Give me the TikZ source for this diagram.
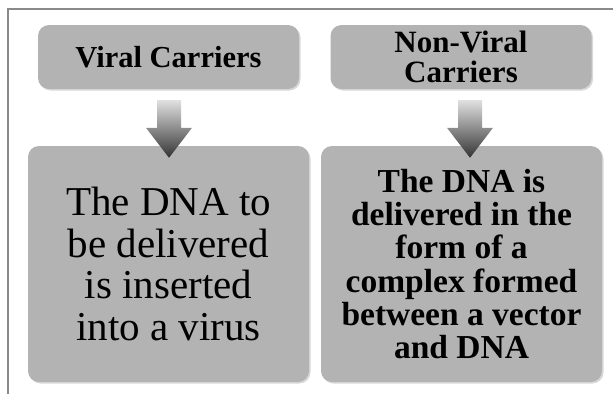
\documentclass[tikz,border=0pt]{standalone}
\usepackage{fontspec}
\setmainfont{Liberation Serif}
\usetikzlibrary{calc,shadows}
\definecolor{boxgray}{HTML}{B3B3B3}
\definecolor{framegray}{HTML}{8A8A8A}
\tikzset{
  box/.style={fill=boxgray, draw=none, rounded corners=11pt, align=center, inner sep=0pt,
    drop shadow={shadow xshift=1.5pt, shadow yshift=-1.5pt, fill=black!25, opacity=0.6}},
  bigarrow/.style={top color=black!12, bottom color=black!80, draw=none}
}
\begin{document}
\begin{tikzpicture}[x=1pt,y=-1pt]
\useasboundingbox (0,0) rectangle (613,394);
\fill[white] (0,0) rectangle (613,394);
\draw[framegray, line width=1.5pt] (8,394) -- (8,9) -- (613,9);
\node[box, minimum width=261pt, minimum height=64pt,
  font={\fontsize{30.5}{31}\selectfont\bfseries}] (v1) at (168.5,57)
  {Viral Carriers};
\node[box, minimum width=261pt, minimum height=64pt,
  font={\fontsize{31}{30}\selectfont\bfseries}] (n1) at (461,57)
  {Non-Viral\\Carriers};
\node[box, minimum width=281pt, minimum height=236pt,
  font={\fontsize{41}{41.5}\selectfont}] (v2) at (168.5,264)
  {The DNA to\\be delivered\\is inserted\\into a virus};
\node[box, minimum width=281pt, minimum height=236pt,
  font={\fontsize{33.5}{33.3}\selectfont\bfseries}] (n2) at (461.5,264)
  {The DNA is\\delivered in the\\form of a\\complex formed\\between a vector\\and DNA};
\path[bigarrow] let \p1=($(v1.south)+(0.5,11)$), \p2=($(v2.north)+(0.5,12)$) in
  (\x1-12,\y1) -- (\x1+12,\y1) -- (\x1+12,\y2+30) -- (\x1+23,\y2+30) -- (\x2,\y2)
  -- (\x1-23,\y2+30) -- (\x1-12,\y2+30) -- cycle;
\path[bigarrow] let \p1=($(n1.south)+(9,11)$), \p2=($(n2.north)+(8.5,12)$) in
  (\x1-12,\y1) -- (\x1+12,\y1) -- (\x1+12,\y2+30) -- (\x1+23,\y2+30) -- (\x2,\y2)
  -- (\x1-23,\y2+30) -- (\x1-12,\y2+30) -- cycle;
\end{tikzpicture}
\end{document}
